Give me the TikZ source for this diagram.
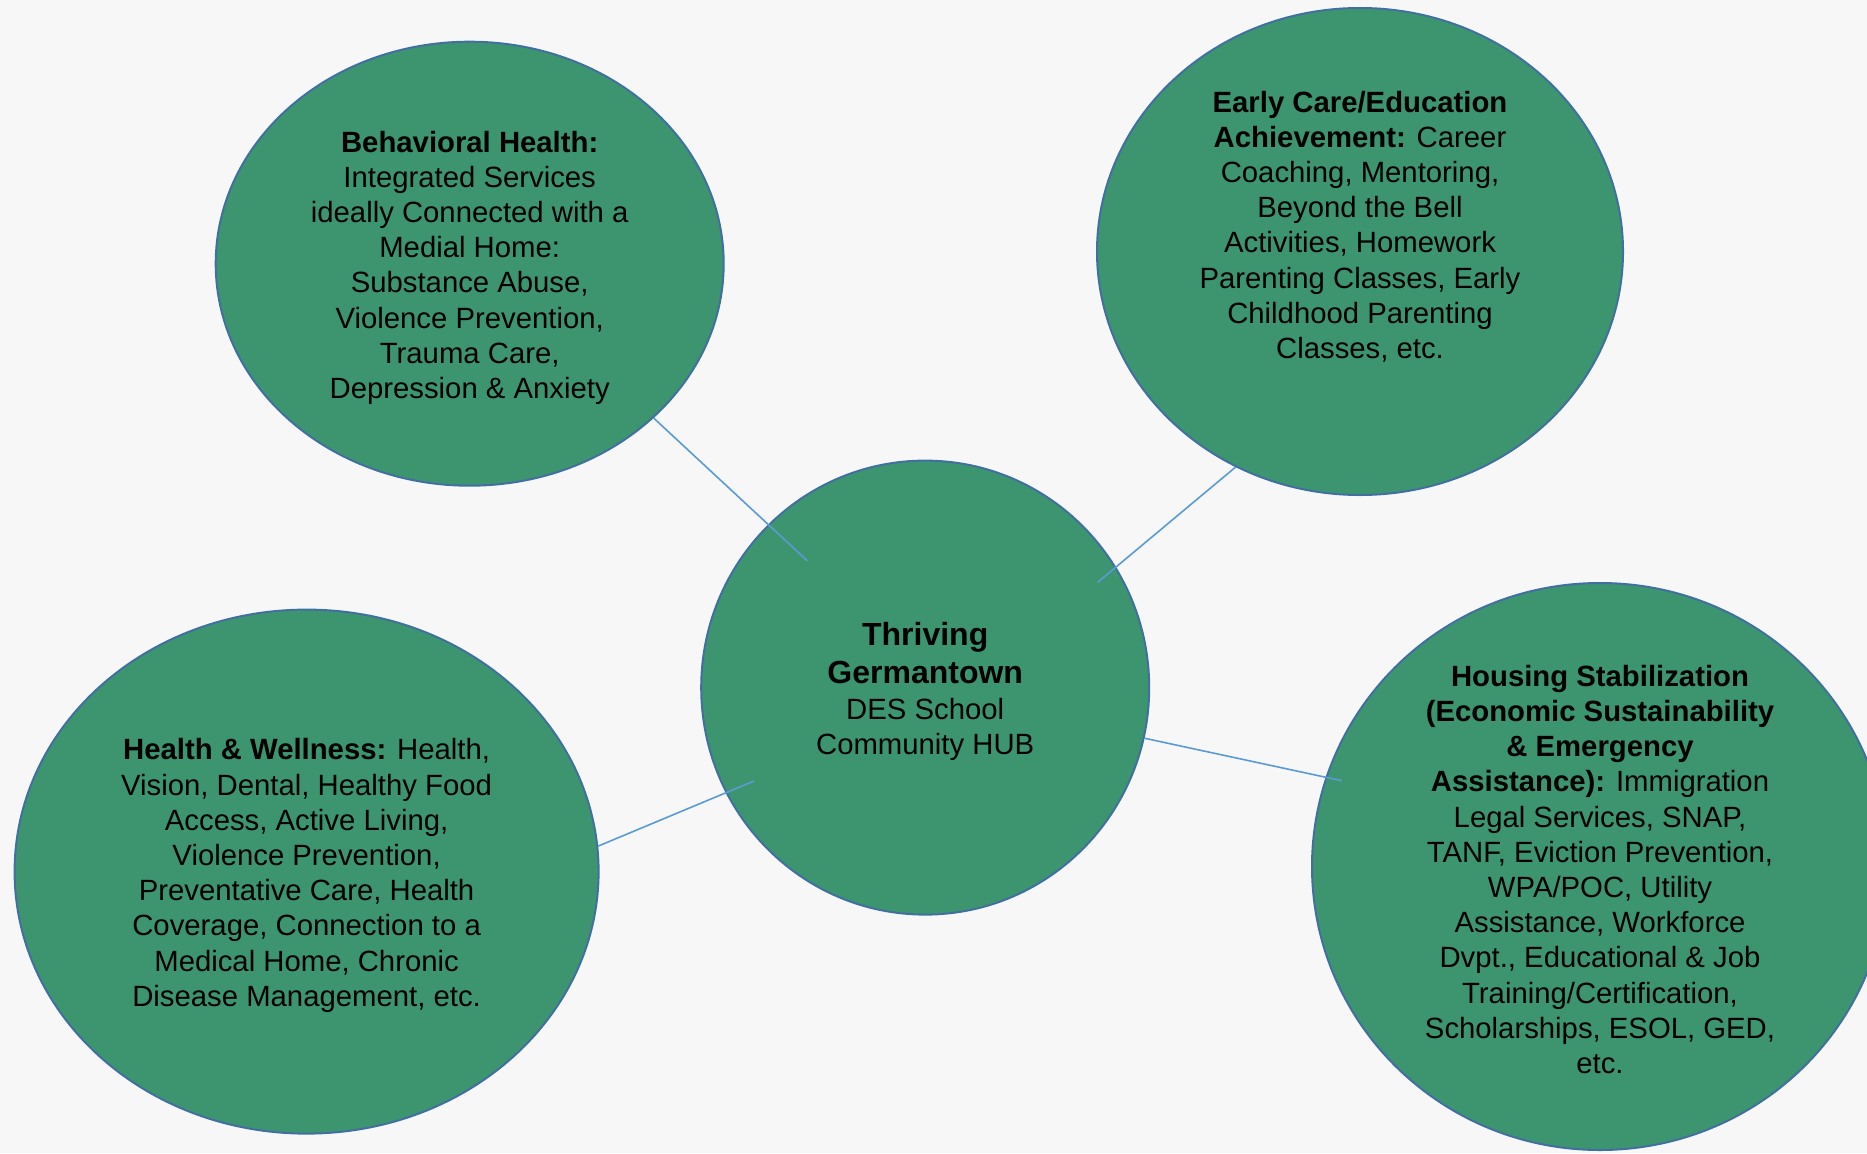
\documentclass[tikz,border=0pt]{standalone}
\usepackage{fontspec}
\setmainfont{Liberation Sans}
\usetikzlibrary{shapes.geometric}

\definecolor{hubgreen}{RGB}{61,149,112}
\definecolor{rimblue}{RGB}{65,112,160}
\definecolor{linkblue}{RGB}{91,155,213}
\definecolor{paper}{RGB}{247,247,247}

\tikzset{
  bubble/.style = {shape=ellipse, draw=rimblue, line width=2pt,
                   fill=hubgreen, inner sep=0pt},
  blurb/.style  = {align=center, text=black,
                   font=\fontsize{29.3}{35.2}\selectfont},
  link/.style   = {draw=linkblue, line width=1.6pt}
}

\begin{document}
\begin{tikzpicture}
[
x=1pt, y=-1pt
  ]
\useasboundingbox (0,0) rectangle (1867,1153);
\fill[paper] (0,0) rectangle (1867,1153);
\clip (0,0) rectangle (1867,1153);

% bubbles
\node[bubble, minimum width=508pt, minimum height=444pt] (beh) at (469.7,263.7) {};
\node[bubble, minimum width=526pt, minimum height=487pt] (edu) at (1360,251.5) {};
\node[bubble, minimum width=448pt, minimum height=454pt] (hub) at (925.2,687.6) {};
\node[bubble, minimum width=584pt, minimum height=524pt] (health) at (306.6,871.6) {};
\node[bubble, minimum width=576pt, minimum height=567pt] (house) at (1600,866.5) {};

% texts
\node[blurb] (behtext) at ([yshift=-4pt]beh.center) {\textbf{Behavioral Health:}\\
  Integrated Services\\ ideally Connected with a\\ Medial Home:\\
  Substance Abuse,\\ Violence Prevention,\\ Trauma Care,\\
  Depression \& Anxiety};
\node[blurb] (edutext) at ([yshift=25pt]edu.center) {\textbf{Early Care/Education}\\
  \textbf{Achievement:} Career\\ Coaching, Mentoring,\\ Beyond the Bell\\
  Activities, Homework\\ Parenting Classes, Early\\ Childhood Parenting\\
  Classes, etc.};
\node[blurb] (hubtext) at ([yshift=-4pt]hub.center) {{\fontsize{32}{38}\selectfont\bfseries Thriving}\\[2pt]
  {\fontsize{32}{38}\selectfont\bfseries Germantown}\\[1pt]
  DES School\\ Community HUB};
\node[blurb] (healthtext) at ([yshift=-4pt]health.center) {\textbf{Health \& Wellness:} Health,\\
  Vision, Dental, Healthy Food\\ Access, Active Living,\\ Violence Prevention,\\
  Preventative Care, Health\\ Coverage, Connection to a\\ Medical Home, Chronic\\
  Disease Management, etc.};
\node[blurb] (housetext) at ([yshift=-3pt]house.center) {\textbf{Housing Stabilization}\\
  \textbf{(Economic Sustainability}\\ \textbf{\& Emergency}\\
  \textbf{Assistance):} Immigration\\ Legal Services, SNAP,\\
  TANF, Eviction Prevention,\\ WPA/POC, Utility\\ Assistance, Workforce\\
  Dvpt., Educational \& Job\\ Training/Certification,\\
  Scholarships, ESOL, GED,\\ etc.};

% connectors
\coordinate (behend) at (807.3,560.8);
\coordinate (eduend) at (1097.7,582.3);
\coordinate (healthend) at (754,781);
\coordinate (houseend) at (1341.7,780.7);
\draw[link] (beh.-40) -- (behend);
\draw[link] (eduend) -- (edu.-120);
\draw[link] (health.5) -- (healthend);
\draw[link] (hub.-13.7) -- (houseend);
\end{tikzpicture}
\end{document}
